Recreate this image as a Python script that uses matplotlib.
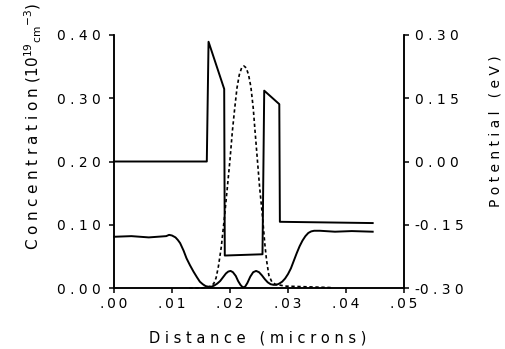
import matplotlib.pyplot as plt

# potential profile (right axis, eV) vs distance (microns)
dist_pot = [0.0000, 0.0160, 0.0163, 0.0190, 0.0191, 0.0256, 0.0259, 0.0285, 0.0286, 0.0446]
potential = [0.000, 0.000, 0.284, 0.172, -0.223, -0.220, 0.168, 0.136, -0.143, -0.146]

# solid concentration curve (left axis, 1e19 cm^-3)
dist_n = [0.0000, 0.0030, 0.0060, 0.0090, 0.0095, 0.0100, 0.0106, 0.0110, 0.0114,
          0.0120, 0.0125, 0.0131, 0.0137, 0.0143, 0.0148, 0.0153, 0.0158, 0.0163,
          0.0168, 0.0173, 0.0178, 0.0183, 0.0188, 0.0193, 0.0197, 0.0201, 0.0205,
          0.0210, 0.0214, 0.0218, 0.0222, 0.0226, 0.0230, 0.0235, 0.0240, 0.0245,
          0.0250, 0.0255, 0.0260, 0.0265, 0.0270, 0.0275, 0.0280, 0.0285, 0.0290,
          0.0295, 0.0300, 0.0305, 0.0310, 0.0315, 0.0320, 0.0325, 0.0330, 0.0335,
          0.0340, 0.0345, 0.0355, 0.0381, 0.0410, 0.0446]
conc_n = [0.081, 0.082, 0.080, 0.082, 0.084, 0.083, 0.080, 0.076, 0.071,
          0.059, 0.047, 0.036, 0.026, 0.017, 0.010, 0.006, 0.003, 0.002,
          0.002, 0.004, 0.007, 0.011, 0.017, 0.023, 0.026, 0.027, 0.025,
          0.019, 0.011, 0.005, 0.001, 0.002, 0.008, 0.018, 0.025, 0.027,
          0.025, 0.020, 0.014, 0.009, 0.006, 0.005, 0.005, 0.007, 0.010,
          0.015, 0.022, 0.031, 0.043, 0.055, 0.066, 0.075, 0.082, 0.087,
          0.0895, 0.0905, 0.0905, 0.089, 0.090, 0.089]

# dashed concentration curve
dist_p = [0.0130, 0.0150, 0.0160, 0.0167, 0.0172, 0.0176, 0.0180, 0.0185, 0.0190,
          0.0195, 0.0200, 0.0204, 0.0208, 0.0212, 0.0216, 0.0220, 0.0224, 0.0228,
          0.0232, 0.0236, 0.0240, 0.0243, 0.0247, 0.0251, 0.0256, 0.0260, 0.0263,
          0.0267, 0.0272, 0.0278, 0.0295, 0.0329, 0.0364, 0.0378]
conc_p = [0.000, 0.000, 0.001, 0.003, 0.007, 0.016, 0.034, 0.065, 0.108,
          0.155, 0.203, 0.247, 0.283, 0.316, 0.337, 0.348, 0.351, 0.348,
          0.337, 0.318, 0.285, 0.250, 0.205, 0.160, 0.113, 0.070, 0.044,
          0.020, 0.010, 0.006, 0.003, 0.002, 0.001, 0.0005]

x_ticks = [0.00, 0.01, 0.02, 0.03, 0.04, 0.05]
left_ticks = [0.00, 0.10, 0.20, 0.30, 0.40]
right_ticks = [-0.30, -0.15, 0.00, 0.15, 0.30]


def spaced(s, sep=' '):
    return sep.join(s)


def right_label(v):
    s = f"{v:.2f}"
    if s.startswith('-'):
        return '-' + spaced(s[1:])
    return spaced(s)


fig = plt.figure(figsize=(5.06, 3.49), dpi=100)
ax = fig.add_axes([114 / 506, 1 - 288 / 349, 290 / 506, 253 / 349])
ax2 = ax.twinx()

ax.plot(dist_n, conc_n, color='black', lw=1.4, clip_on=False)
ax.plot(dist_p, conc_p, color='black', lw=1.2, linestyle=(0, (2, 1.6)), clip_on=False)
ax2.plot(dist_pot, potential, color='black', lw=1.4, clip_on=False)

ax.set_xlim(0, 0.05)
ax.set_ylim(0, 0.40)
ax2.set_ylim(-0.30, 0.30)

ax.set_xticks(x_ticks)
ax.set_xticklabels([spaced(f"{v:.2f}"[1:], '\u2009') for v in x_ticks])
ax.set_yticks(left_ticks)
ax.set_yticklabels([spaced(f"{v:.2f}") for v in left_ticks])
ax2.set_yticks(right_ticks)
ax2.set_yticklabels([right_label(v) for v in right_ticks])

for a in (ax, ax2):
    a.spines['top'].set_visible(False)
    for side in ('left', 'right', 'bottom'):
        a.spines[side].set_linewidth(1.1)
    a.tick_params(width=1.1, length=3.6, labelsize=10, direction='out')
ax.tick_params(axis='y', pad=6)
ax.tick_params(axis='x', pad=3)
ax2.tick_params(axis='y', pad=4)

fig.text(258 / 506, 1 - 338 / 349, spaced("Distance (microns)"),
         ha='center', va='center', fontsize=10.5)
fig.text(33 / 506, 1 - 127 / 349,
         spaced("Concentration", '\u2009\u200a') + r" (10$^{19}$$_{\rm cm}$$^{-3}$)",
         ha='center', va='center', rotation=90, fontsize=11)
fig.text(496 / 506, 1 - 131 / 349, spaced("Potential (eV)"),
         ha='center', va='center', rotation=90, fontsize=10)

fig.savefig('out.png', dpi=100)
